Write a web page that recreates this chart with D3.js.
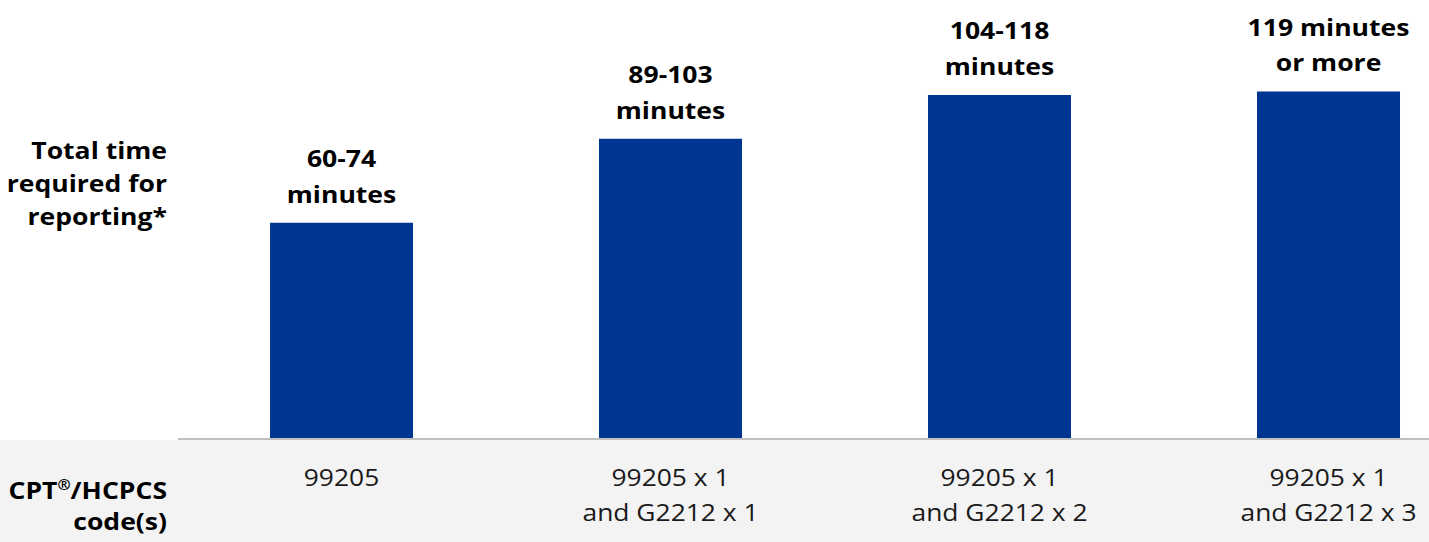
<!DOCTYPE html>
<html>
<head>
<meta charset="utf-8">
<script src="https://cdn.jsdelivr.net/npm/d3@7"></script>
<style>
  html, body { margin: 0; padding: 0; background: #ffffff; }
  svg { display: block; font-family: "Open Sans", "Noto Sans", sans-serif; }
</style>
</head>
<body>
<svg id="chart" width="1429" height="542"></svg>
<script>
// Categories: CPT/HCPCS code combinations
const codes = [
  ["99205"],
  ["99205 x 1", "and G2212 x 1"],
  ["99205 x 1", "and G2212 x 2"],
  ["99205 x 1", "and G2212 x 3"]
];
// Time-range labels shown above each bar
const timeLabels = [
  ["60-74", "minutes"],
  ["89-103", "minutes"],
  ["104-118", "minutes"],
  ["119 minutes", "or more"]
];
// Bar heights (relative total time)
const barValues = [61.5, 85.5, 98, 99];

const W = 1429, H = 542;
const baseY = 438;
const stretch = 1.13;       // horizontal text stretch
const lineGap = 35.5;
const svg = d3.select("#chart");

const x = d3.scaleBand()
  .domain(d3.range(codes.length))
  .range([177, 177 + 4 * 329])
  .paddingInner(0.5653)
  .paddingOuter(0.5653 / 2);

const y = d3.scaleLinear()
  .domain([0, 100])
  .range([baseY, baseY - 350]);

// grey band behind the code row
svg.append("rect")
  .attr("x", 0).attr("y", baseY + 2)
  .attr("width", W).attr("height", H - baseY - 2)
  .attr("fill", "#f3f3f3");

// bars
svg.append("g").selectAll("rect")
  .data(barValues)
  .join("rect")
  .attr("x", (d, i) => x(i))
  .attr("y", d => y(d))
  .attr("width", x.bandwidth())
  .attr("height", d => y(0) - y(d))
  .attr("fill", "#003591");

// baseline axis
svg.append("line")
  .attr("x1", 178).attr("x2", W)
  .attr("y1", baseY + 1).attr("y2", baseY + 1)
  .attr("stroke", "#bfbfbf").attr("stroke-width", 2);

// multi-line text helper, stretched horizontally around its anchor
function block(g, cx, lines, firstY, gap, sx) {
  const t = g.append("text")
    .attr("transform", `translate(${cx},0) scale(${sx},1)`);
  lines.forEach((s, k) => {
    t.append("tspan").attr("x", 0).attr("y", firstY + k * gap).text(s);
  });
  return t;
}

// value labels above bars
const vl = svg.append("g")
  .attr("font-weight", 700)
  .attr("font-size", 23.5)
  .attr("fill", "#000")
  .attr("text-anchor", "middle");
barValues.forEach((v, i) => {
  const lines = timeLabels[i];
  const cx = x(i) + x.bandwidth() / 2;
  const lastY = y(v) - 20;
  block(vl, cx, lines, lastY - (lines.length - 1) * lineGap, lineGap, stretch);
});

// code labels below axis
const cl = svg.append("g")
  .attr("font-size", 24)
  .attr("fill", "#1a1a1a")
  .attr("text-anchor", "middle");
codes.forEach((lines, i) => {
  const cx = x(i) + x.bandwidth() / 2;
  block(cl, cx, lines, 486.5, 35, 1.1);
});

// row headers
const hdr = svg.append("g")
  .attr("font-weight", 700)
  .attr("font-size", 23.5)
  .attr("fill", "#000")
  .attr("text-anchor", "end");
block(hdr, 167, ["Total time", "required for", "reporting*"], 159, 33, stretch);

const cpt = hdr.append("text")
  .attr("transform", `translate(167,0) scale(${stretch},1)`)
  .attr("x", 0).attr("y", 499);
cpt.append("tspan").text("CPT");
cpt.append("tspan").attr("font-size", 14).attr("dy", -9).text("®");
cpt.append("tspan").attr("dy", 9).text("/HCPCS");
hdr.append("text")
  .attr("transform", `translate(167,0) scale(${stretch},1)`)
  .attr("x", 0).attr("y", 530).text("code(s)");
</script>
</body>
</html>
